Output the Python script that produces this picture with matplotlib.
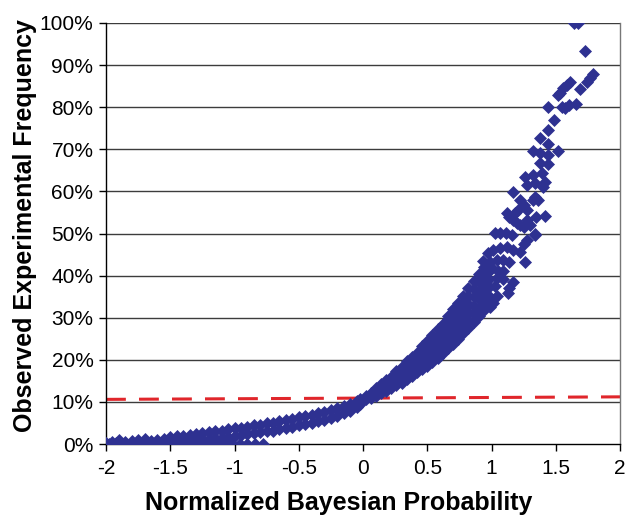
import matplotlib.pyplot as plt
import numpy as np

plt.rcParams['font.family'] = ['Liberation Sans', 'DejaVu Sans']

# ---- data (x: normalized probability, y: %) ----
# row of points sitting on the 0% line at the left
zero_x = [-1.98, -1.92, -1.86, -1.80, -1.74, -1.68, -1.62, -1.56, -1.50, -1.44, -1.38,
          -1.32, -1.26, -1.20, -1.14, -1.08, -1.02, -0.96, -0.90, -0.84, -0.78]
zero_y = [0.0, 0.2, 0.0, 0.0, 0.1, 0.0, 0.0, 0.2, 0.0, 0.0, 0.3,
          0.0, 0.1, 0.0, 0.0, 0.2, 0.0, 0.0, 0.1, 0.0, 0.0]

# lower band, x < 0 (two rows per column)
left_x = [-2.00, -2.00, -1.95, -1.95, -1.90, -1.90, -1.85, -1.85, -1.80, -1.80,
          -1.75, -1.75, -1.70, -1.70, -1.65, -1.65, -1.60, -1.60, -1.55, -1.55,
          -1.50, -1.50, -1.45, -1.45, -1.40, -1.40, -1.35, -1.35, -1.30, -1.30,
          -1.25, -1.25, -1.20, -1.20, -1.15, -1.15, -1.10, -1.10, -1.05, -1.05,
          -1.00, -1.00, -0.95, -0.95, -0.90, -0.90, -0.85, -0.85, -0.80, -0.80,
          -0.75, -0.75, -0.70, -0.70, -0.65, -0.65, -0.60, -0.60, -0.55, -0.55,
          -0.50, -0.50, -0.45, -0.45, -0.40, -0.40, -0.35, -0.35, -0.30, -0.30,
          -0.25, -0.25, -0.20, -0.20, -0.15, -0.15, -0.10, -0.10, -0.05, -0.05,
          -0.02, -0.02]
left_y = [0.0, 0.3, 0.1, 0.5, 0.2, 1.0, 0.2, 0.5, 0.3, 0.6,
          0.3, 0.9, 0.4, 1.3, 0.4, 0.8, 0.5, 0.9, 0.6, 1.3,
          0.6, 1.6, 0.7, 1.8, 0.8, 1.9, 0.9, 2.1, 1.0, 2.4,
          1.1, 2.6, 1.2, 2.9, 1.4, 3.0, 1.5, 3.2, 1.7, 3.5,
          1.9, 3.7, 2.1, 3.9, 2.3, 4.1, 2.5, 4.4, 2.8, 4.6,
          3.0, 4.9, 3.2, 5.1, 3.5, 5.4, 3.8, 5.7, 4.1, 6.0,
          4.4, 6.3, 4.7, 6.6, 5.1, 6.9, 5.5, 7.3, 5.8, 7.7,
          6.2, 8.1, 6.7, 8.6, 7.3, 9.1, 7.9, 9.6, 8.7, 10.3,
          9.6, 10.6]

# dense band, 0 < x < 1
right_x = [0.02, 0.02,
           0.06, 0.06,
           0.10, 0.10, 0.10,
           0.14, 0.14, 0.14,
           0.18, 0.18, 0.18,
           0.22, 0.22, 0.22,
           0.26, 0.26, 0.26, 0.26,
           0.30, 0.30, 0.30, 0.30,
           0.34, 0.34, 0.34, 0.34,
           0.38, 0.38, 0.38, 0.38,
           0.42, 0.42, 0.42, 0.42,
           0.46, 0.46, 0.46, 0.46, 0.46,
           0.50, 0.50, 0.50, 0.50, 0.50,
           0.54, 0.54, 0.54, 0.54, 0.54,
           0.58, 0.58, 0.58, 0.58, 0.58,
           0.62, 0.62, 0.62, 0.62, 0.62,
           0.66, 0.66, 0.66, 0.66, 0.66, 0.66,
           0.70, 0.70, 0.70, 0.70, 0.70, 0.70,
           0.74, 0.74, 0.74, 0.74, 0.74, 0.74,
           0.78, 0.78, 0.78, 0.78, 0.78, 0.78,
           0.82, 0.82, 0.82, 0.82, 0.82, 0.82,
           0.86, 0.86, 0.86, 0.86, 0.86, 0.86,
           0.90, 0.90, 0.90, 0.90, 0.90, 0.90,
           0.94, 0.94, 0.94, 0.94, 0.94, 0.94,
           0.98, 0.98, 0.98, 0.98, 0.98]
right_y = [10.6, 11.4,
           11.0, 12.2,
           11.5, 12.6, 13.3,
           12.0, 13.2, 14.3,
           12.6, 13.8, 15.2,
           13.3, 14.6, 16.0,
           14.0, 15.3, 16.6, 17.3,
           14.6, 15.9, 17.2, 18.4,
           15.4, 16.8, 18.2, 19.6,
           16.2, 17.6, 19.1, 20.6,
           17.0, 18.5, 20.0, 21.6,
           17.8, 19.4, 20.9, 22.4, 23.2,
           18.6, 20.2, 21.8, 23.3, 24.4,
           19.5, 21.1, 22.8, 24.4, 25.8,
           20.5, 22.2, 23.9, 25.6, 27.2,
           21.6, 23.3, 25.0, 26.8, 28.5,
           22.7, 24.4, 26.2, 28.0, 29.6, 30.4,
           23.8, 25.6, 27.4, 29.2, 30.9, 32.0,
           25.0, 26.8, 28.7, 30.5, 32.2, 33.5,
           26.3, 28.1, 30.0, 31.9, 33.6, 35.2,
           27.6, 29.5, 31.4, 33.3, 35.2, 37.0,
           29.0, 30.9, 32.8, 34.8, 36.7, 38.6,
           30.4, 32.4, 34.4, 36.4, 38.4, 40.4,
           31.8, 33.8, 35.8, 37.8, 39.9, 42.0,
           33.2, 35.2, 37.2, 39.2, 41.2]

# scattered points at the top end
top_x = [1.03, 1.07, 1.11, 1.16, 1.34, 1.28, 1.25,
         0.97, 1.01, 1.07, 1.12, 1.17, 1.22,
         1.26, 0.93, 0.99, 1.04, 1.09, 1.14,
         1.00, 1.05, 1.09, 0.95,
         1.04, 1.09, 1.17, 1.14, 1.13,
         1.04, 1.01, 0.99, 1.03,
         1.12, 1.14, 1.17, 1.20, 1.22, 1.25, 1.18, 1.21, 1.28, 1.30, 1.35, 1.42, 1.34,
         1.17, 1.22, 1.25, 1.28, 1.32, 1.34, 1.36,
         1.28, 1.34, 1.42, 1.40, 1.26, 1.32, 1.39,
         1.38, 1.44, 1.32, 1.38, 1.44, 1.52,
         1.44, 1.38, 1.44, 1.49, 1.44,
         1.55, 1.57, 1.60, 1.66,
         1.52, 1.53, 1.56, 1.59, 1.61,
         1.69, 1.74, 1.77, 1.79,
         1.73, 1.64, 1.67]
top_y = [50.1, 50.1, 50.1, 49.6, 49.6, 48.5, 47.5,
         45.4, 46.1, 46.6, 46.8, 46.1, 45.6,
         43.2, 43.4, 43.2, 43.6, 43.6, 43.2,
         41.8, 41.2, 41.2, 41.2,
         39.5, 39.3, 38.5, 37.0, 35.9,
         35.2, 33.5, 32.5, 37.5,
         54.9, 53.9, 53.2, 52.5, 52.0, 51.5, 54.9, 55.6, 53.2, 52.0, 53.9, 54.2, 50.0,
         59.9, 58.0, 56.8, 55.6, 58.0, 58.7, 58.0,
         61.5, 62.0, 62.2, 61.0, 63.4, 63.9, 64.4,
         66.7, 66.5, 69.6, 69.1, 68.6, 69.6,
         71.3, 72.7, 74.6, 77.0, 80.0,
         80.0, 79.8, 80.5, 80.8,
         82.9, 83.4, 84.5, 85.3, 86.0,
         84.3, 86.0, 86.9, 87.9,
         93.4, 100.0, 100.0]

# red dashed reference line (end points)
line_x = [-2.0, 2.0]
line_y = [10.6, 11.2]

x_ticks = [-2, -1.5, -1, -0.5, 0, 0.5, 1, 1.5, 2]
x_labels = ['-2', '-1.5', '-1', '-0.5', '0', '0.5', '1', '1.5', '2']
y_ticks = [0, 10, 20, 30, 40, 50, 60, 70, 80, 90, 100]

fig = plt.figure(figsize=(6.29, 5.18), dpi=100)
ax = fig.add_axes([106 / 629, 74 / 518, 514 / 629, 421 / 518])

pts_x = zero_x + left_x + right_x + top_x
pts_y = zero_y + left_y + right_y + top_y

ax.plot(line_x, line_y, color='#e0262b', lw=2.2, ls=(0, (6.5, 4.3)), zorder=2)
ax.scatter(pts_x, pts_y, marker='D', s=44, color='#2e3191', linewidths=0, zorder=3)

ax.set_xlim(-2, 2)
ax.set_ylim(0, 100)
ax.set_xticks(x_ticks)
ax.set_xticklabels(x_labels)
ax.set_yticks(y_ticks)
ax.set_yticklabels([f'{v}%' for v in y_ticks])

for v in y_ticks[1:]:
    ax.axhline(v, color='#3c3c3c', lw=1.0, zorder=1)

for side in ['left', 'bottom']:
    ax.spines[side].set_color('black')
    ax.spines[side].set_linewidth(1.0)
ax.spines['top'].set_visible(False)
ax.spines['right'].set_color('#777777')
ax.spines['right'].set_linewidth(1.0)

ax.tick_params(axis='both', direction='out', length=5, width=1, labelsize=15, pad=4,
               colors='black')
ax.tick_params(axis='x', pad=6)

ax.set_xlabel('Normalized Bayesian Probability', fontsize=18, fontweight='bold', labelpad=9)
ax.set_ylabel('Observed Experimental Frequency', fontsize=18, fontweight='bold', labelpad=2)
ax.xaxis.label.set_x(0.453)
ax.yaxis.label.set_y(0.52)

fig.savefig('out.png', dpi=100)
